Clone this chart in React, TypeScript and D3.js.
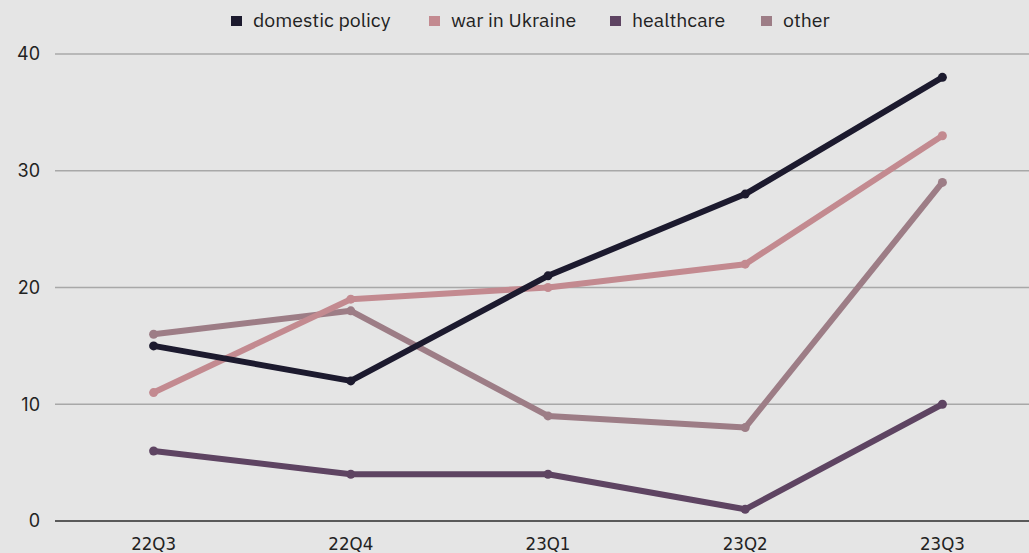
import React from "react";
import * as d3 from "d3";

const categories = ["22Q3", "22Q4", "23Q1", "23Q2", "23Q3"];
const seriesNames = ["domestic policy", "war in Ukraine", "healthcare", "other"];
const domesticPolicy = [15, 12, 21, 28, 38];
const warInUkraine = [11, 19, 20, 22, 33];
const healthcare = [6, 4, 4, 1, 10];
const other = [16, 18, 9, 8, 29];
const yTicks = [0, 10, 20, 30, 40];
const colors = ["#1c1a2e", "#c38a90", "#5e4462", "#9d7d86"];

const W = 1029;
const H = 553;

export default function App() {
  const x = d3.scaleBand<string>().domain(categories).range([55, 1041]);
  const y = d3.scaleLinear().domain([0, 40]).range([521, 54]);
  const seriesData = [domesticPolicy, warInUkraine, healthcare, other];
  const order = [3, 2, 1, 0];
  const cx = (i: number) => (x(categories[i]) as number) + x.bandwidth() / 2;
  const line = d3
    .line<number>()
    .x((_, i) => cx(i))
    .y((d) => y(d));
  const legendX = [231, 429, 610, 761];
  return (
    <div style={{ position: "fixed", left: 0, top: 0 }}>
      <svg width={W} height={H} style={{ display: "block", background: "#e5e5e5" }}>
        <rect x={0} y={0} width={W} height={H} fill="#e5e5e5" />
        {yTicks.map((t) => (
          <g key={t}>
            <line
              x1={55}
              x2={W}
              y1={y(t)}
              y2={y(t)}
              stroke={t === 0 ? "#5a5a5a" : "#a8a8a8"}
              strokeWidth={t === 0 ? 2 : 1.5}
            />
            <text
              x={40}
              y={y(t)}
              dy="0.36em"
              textAnchor="end"
              fontFamily="Inter, 'Open Sans', sans-serif"
              fontSize={18}
              fill="#222"
            >
              {t}
            </text>
          </g>
        ))}
        {categories.map((c, i) => (
          <text
            key={c}
            x={cx(i)}
            y={550}
            textAnchor="middle"
            fontFamily="'Liberation Sans Narrow', 'DejaVu Sans Condensed', 'Roboto Condensed', sans-serif"
            fontSize={18.5}
            fill="#222"
          >
            {c}
          </text>
        ))}
        {order.map((si) => (
          <g key={si}>
            <path
              d={line(seriesData[si]) as string}
              fill="none"
              stroke={colors[si]}
              strokeWidth={6}
              strokeLinejoin="round"
              strokeLinecap="round"
            />
            {seriesData[si].map((v, i) => (
              <circle key={i} cx={cx(i)} cy={y(v)} r={4.5} fill={colors[si]} />
            ))}
          </g>
        ))}
        {seriesNames.map((n, i) => (
          <g key={n}>
            <rect x={legendX[i]} y={16} width={11} height={10} fill={colors[i]} />
            <text
              x={legendX[i] + 22}
              y={27}
              fontFamily="'IBM Plex Sans', 'Open Sans', Roboto, sans-serif"
              fontSize={19.5}
              fill="#222"
            >
              {n}
            </text>
          </g>
        ))}
      </svg>
    </div>
  );
}
